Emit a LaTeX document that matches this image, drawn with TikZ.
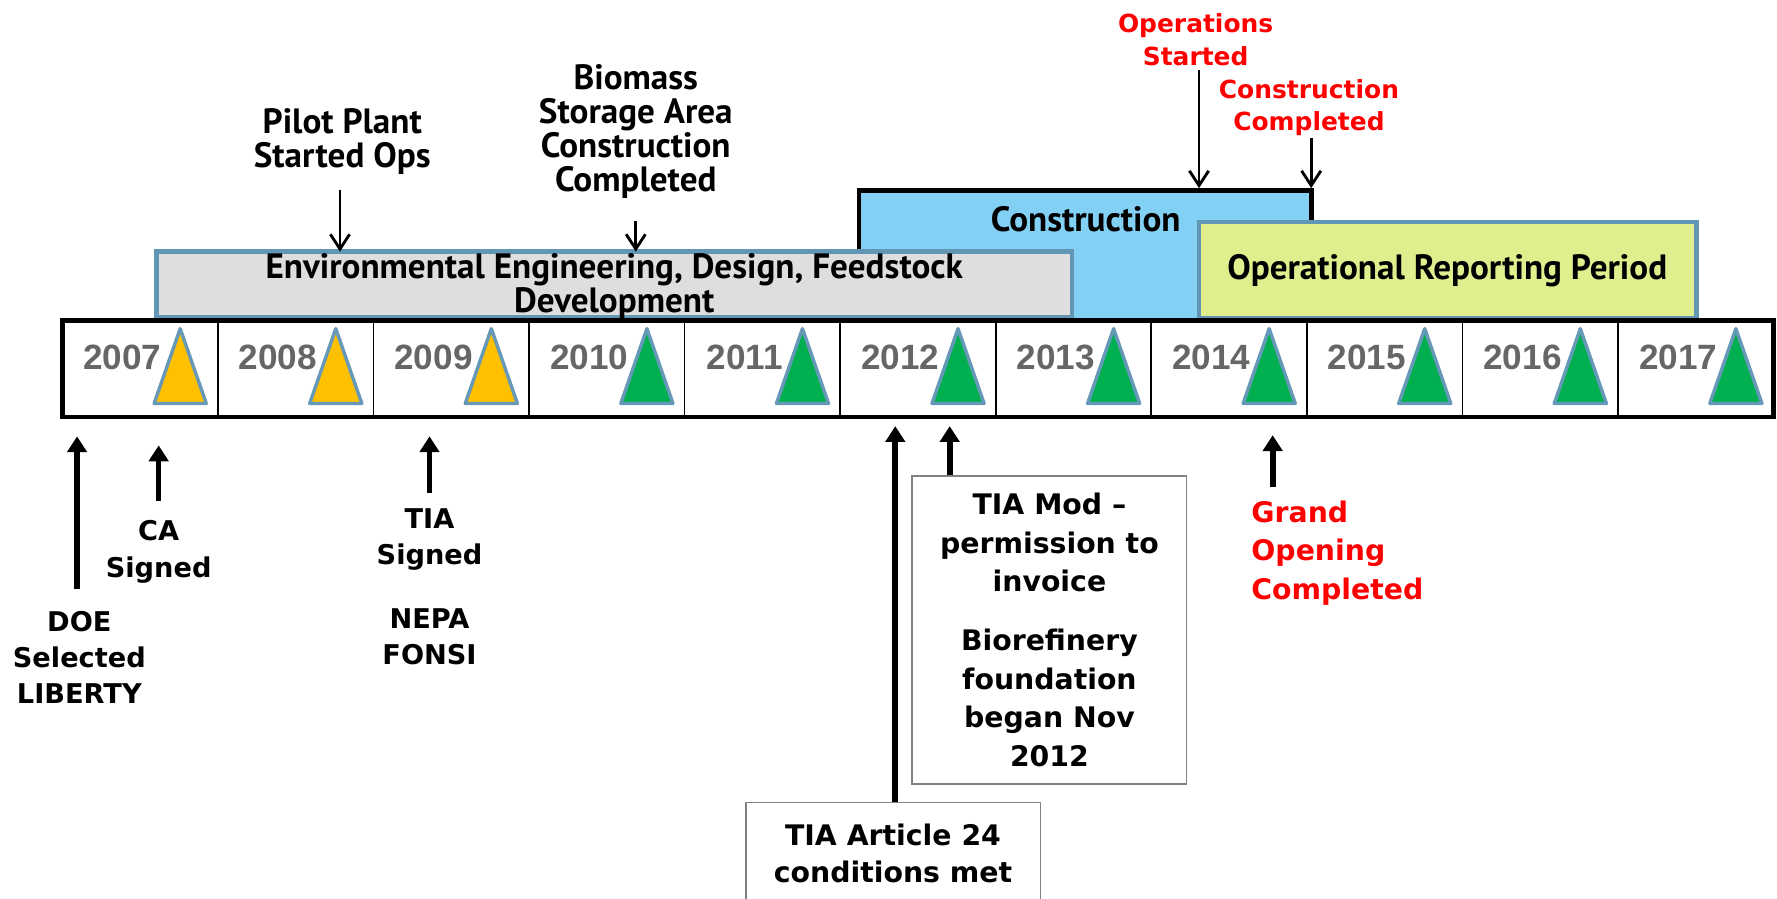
\documentclass[tikz,border=0pt]{standalone}
\usepackage{fontspec}
\setmainfont{DejaVu Sans}
\newfontfamily\yearfont{Liberation Sans}
\newfontfamily\condfont{PT Sans}
\usetikzlibrary{arrows.meta}
\definecolor{envfill}{HTML}{DEDEDE}
\definecolor{boxblue}{HTML}{6196B4}
\definecolor{consfill}{HTML}{83D0F5}
\definecolor{opsfill}{HTML}{E1EE8E}
\definecolor{triY}{HTML}{FFC000}
\definecolor{triG}{HTML}{00B050}
\definecolor{triedge}{HTML}{6699B8}
\definecolor{yeargray}{HTML}{666666}
\definecolor{lblgray}{HTML}{808080}
\definecolor{redtxt}{HTML}{FF0000}
\begin{document}
\begin{tikzpicture}[x=1pt,y=-1pt,
  phasebox/.style={draw=boxblue,line width=4pt},
  yeartxt/.style={font=\yearfont\bfseries\fontsize{31}{31}\selectfont,text=yeargray,inner sep=0pt},
  tri/.style={draw=triedge,line width=3pt,line join=round},
  condlbl/.style={font=\condfont\bfseries\fontsize{31}{30}\selectfont,align=center,inner sep=0pt},
  evlbl/.style={font=\bfseries\fontsize{24}{32}\selectfont,align=center,inner sep=0pt},
  redlbl/.style={font=\bfseries\fontsize{22}{29}\selectfont,align=center,inner sep=0pt,text=redtxt},
  downarrow/.style={line width=2.5pt,-{Straight Barb[length=13pt,width=17pt,line width=2.5pt]}},
  uparrow/.style={line width=5pt,-{Triangle[length=14pt,width=17pt]}},
  notebox/.style={draw=lblgray,line width=1.5pt,fill=white}
]
\useasboundingbox (0,0) rectangle (1568,793);

% Construction box
\draw[fill=consfill,line width=4pt] (758,283) -- (758,168) -- (1157,168) -- (1157,283);
\node[condlbl] (constxt) at (958,193) {Construction};
% Operational reporting period
\draw[phasebox,fill=opsfill] (1058,196) rectangle (1497,281);
\node[condlbl] (opstxt) at (1277,239) {Operational Reporting Period};
% Environmental box
\draw[phasebox,fill=envfill] (138,222) rectangle (946,280);
\node[condlbl] (envtxt) at (542,253) {Environmental Engineering, Design, Feedstock\\Development};

% Timeline
\draw[fill=white,line width=4pt] (55,283) rectangle (1565,368);
\foreach \i in {1,...,10}{
  \draw[line width=1.5pt] ({55+\i*137.27},285) -- ({55+\i*137.27},366);
}
\foreach \i/\yr/\col in {0/2007/triY,1/2008/triY,2/2009/triY,3/2010/triG,4/2011/triG,5/2012/triG,6/2013/triG,7/2014/triG,8/2015/triG,9/2016/triG,10/2017/triG}{
  \pgfmathsetmacro{\L}{55+\i*137.27}
  \draw[tri,fill=\col] ({\L+104},290) -- ({\L+127},356) -- ({\L+81},356) -- cycle;
  \node[yeartxt] (y\yr) at ({\L+53},315) {\yr};
}

% Top labels and arrows
\node[condlbl] (pilot) at (302,125) {Pilot Plant\\Started Ops};
\coordinate (pilotS) at (300,168);
\coordinate (pilotE) at (300,222);
\draw[downarrow] (pilotS) -- (pilotE);

\node[condlbl] (biomass) at (561,116) {Biomass\\Storage Area\\Construction\\Completed};
\coordinate (bioS) at (561,195);
\coordinate (bioE) at (561,222);
\draw[downarrow] (bioS) -- (bioE);

\node[redlbl] (opstart) at (1055,35) {Operations\\Started};
\coordinate (osS) at (1058,62);
\coordinate (osE) at (1058,166);
\draw[downarrow] (osS) -- (osE);

\node[redlbl] (conscomp) at (1155,95) {Construction\\Completed};
\coordinate (ccS) at (1157,122);
\coordinate (ccE) at (1157,166);
\draw[downarrow] (ccS) -- (ccE);

% Bottom labels and arrows
\node[evlbl] (doe) at (70,580) {DOE\\Selected\\LIBERTY};
\coordinate (doeS) at (68,520);
\coordinate (doeE) at (68,385);
\draw[uparrow] (doeS) -- (doeE);

\node[evlbl] (ca) at (140,487) {CA\\Signed};
\coordinate (caS) at (140,442);
\coordinate (caE) at (140,393);
\draw[uparrow] (caS) -- (caE);

\node[evlbl] (tia) at (379,476) {TIA\\Signed};
\node[evlbl] (nepa) at (379,562) {NEPA\\FONSI};
\coordinate (tiaS) at (379,435);
\coordinate (tiaE) at (379,385);
\draw[uparrow] (tiaS) -- (tiaE);

\node[notebox,minimum width=260pt,minimum height=90pt] (art) at (788,753) {};
\node[evlbl,font=\bfseries\fontsize{25}{33}\selectfont] (arttxt) at (788,753) {TIA Article 24\\conditions met};
\coordinate (artE) at (790,376);
\draw[uparrow] (art.north -| artE) -- (artE);

\node[notebox,minimum width=242pt,minimum height=272pt] (mod) at (926,556) {};
\node[evlbl,font=\bfseries\fontsize{25}{34}\selectfont] (modtxt) at (926,556) {TIA Mod –\\permission to\\invoice\\[18pt]Biorefinery\\foundation\\began Nov\\2012};
\coordinate (modE) at (838,376);
\draw[uparrow] (mod.north -| modE) -- (modE);

\node[evlbl,font=\bfseries\fontsize{25}{34}\selectfont,align=left,text=redtxt,anchor=west] (grand) at (1104,488) {Grand\\Opening\\Completed};
\coordinate (grS) at (1123,430);
\coordinate (grE) at (1123,384);
\draw[uparrow] (grS) -- (grE);
\end{tikzpicture}
\end{document}
